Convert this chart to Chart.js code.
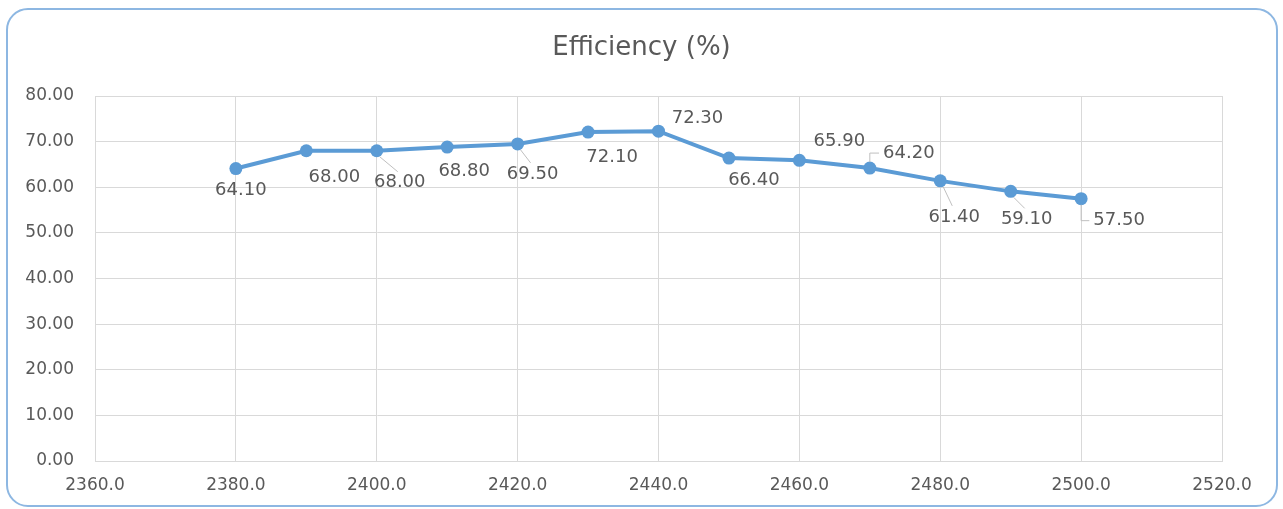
<!DOCTYPE html>
<html lang="en">
<head>
  <meta charset="UTF-8" />
  <title>Efficiency (%)</title>
  <script src="https://cdn.jsdelivr.net/npm/chart.js"></script>
  <style>
    html, body { margin: 0; padding: 0; background: white; }
    .frame {
      position: absolute;
      left: 6px; top: 8px;
      width: 1268px; height: 495px;
      border: 2px solid #8db7e2;
      border-radius: 22px;
    }
    .wrap { position: absolute; left: 0; top: 0; width: 1283px; height: 509px; }
  </style>
</head>
<body>
  <div class="frame"></div>
  <div class="wrap"><canvas id="chart" width="1283" height="509"></canvas></div>

  <script>
    // data
    const freq = [2380, 2390, 2400, 2410, 2420, 2430, 2440, 2450, 2460, 2470, 2480, 2490, 2500];
    const efficiency = [64.1, 68.0, 68.0, 68.8, 69.5, 72.1, 72.3, 66.4, 65.9, 64.2, 61.4, 59.1, 57.5];
    const chartTitle = "Efficiency (%)";

    // label placement (dx, dy from the point) and whether a leader line is drawn
    const labelOffsets = [
      [5, 22], [28, 27], [23, 32], [17, 24], [15, 30], [24, 25], [39, -13],
      [25, 22], [40, -19], [39, -15], [14, 36], [16, 28], [38, 22]
    ];
    const leaders = [false, false, true, false, true, false, false, false, false, true, true, true, true];

    const textGray = "#595959";
    const lineBlue = "#5b9bd5";
    const fontFam = "'DejaVu Sans'";

    // title centred on the whole frame, not on the plot box
    const frameTitle = {
      id: "frameTitle",
      afterDraw(chart) {
        const ctx = chart.ctx;
        ctx.save();
        ctx.font = "26px " + fontFam;
        ctx.fillStyle = textGray;
        ctx.textAlign = "center";
        ctx.textBaseline = "middle";
        ctx.fillText(chartTitle, chart.width / 2, 48);
        ctx.restore();
      }
    };

    // draws the value labels the way Excel placed them
    const valueLabels = {
      id: "valueLabels",
      afterDatasetsDraw(chart) {
        const ctx = chart.ctx;
        const meta = chart.getDatasetMeta(0);
        ctx.save();
        ctx.font = "18px " + fontFam;
        ctx.fillStyle = textGray;
        ctx.textAlign = "center";
        ctx.textBaseline = "middle";
        meta.data.forEach((pt, i) => {
          const [dx, dy] = labelOffsets[i];
          const tx = pt.x + dx, ty = pt.y + dy;
          const txt = efficiency[i].toFixed(2);
          if (leaders[i]) {
            const w = ctx.measureText(txt).width;
            ctx.strokeStyle = "#bfbfbf";
            ctx.lineWidth = 1;
            ctx.beginPath();
            if (dy < 0) {
              ctx.moveTo(pt.x, pt.y - 6);
              ctx.lineTo(pt.x, ty);
              ctx.lineTo(tx - w / 2 - 4, ty);
            } else if (dx > 30) {
              ctx.moveTo(pt.x, pt.y + 6);
              ctx.lineTo(pt.x, ty);
              ctx.lineTo(tx - w / 2 - 4, ty);
            } else {
              ctx.moveTo(pt.x + 3, pt.y + 6);
              ctx.lineTo(tx - 2, ty - 11);
            }
            ctx.stroke();
          }
          ctx.fillText(txt, tx, ty);
        });
        ctx.restore();
      }
    };

    new Chart(document.getElementById("chart"), {
      type: "line",
      data: {
        datasets: [{
          label: chartTitle,
          data: freq.map((f, i) => ({ x: f, y: efficiency[i] })),
          borderColor: lineBlue,
          backgroundColor: lineBlue,
          borderWidth: 4,
          pointRadius: 6.5,
          pointBackgroundColor: lineBlue,
          pointBorderWidth: 0,
          tension: 0
        }]
      },
      options: {
        responsive: false,
        animation: false,
        layout: { padding: { left: 0, right: 61, top: 96, bottom: 0 } },
        plugins: {
          legend: { display: false },
          tooltip: { enabled: false },
          title: { display: false }
        },
        scales: {
          x: {
            type: "linear",
            min: 2360,
            max: 2520,
            ticks: {
              stepSize: 20,
              color: textGray,
              font: { family: fontFam, size: 17 },
              padding: 14,
              callback: v => v.toFixed(1)
            },
            grid: { color: "#d9d9d9", drawTicks: false },
            border: { color: "#d9d9d9" },
            afterFit: s => { s.height = 48; }
          },
          y: {
            min: 0,
            max: 80,
            ticks: {
              stepSize: 10,
              color: textGray,
              font: { family: fontFam, size: 17 },
              padding: 21,
              callback: v => v.toFixed(2)
            },
            grid: { color: "#d9d9d9", drawTicks: false },
            border: { color: "#d9d9d9" },
            afterFit: s => { s.width = 95; }
          }
        }
      },
      plugins: [valueLabels, frameTitle]
    });
  </script>
</body>
</html>
